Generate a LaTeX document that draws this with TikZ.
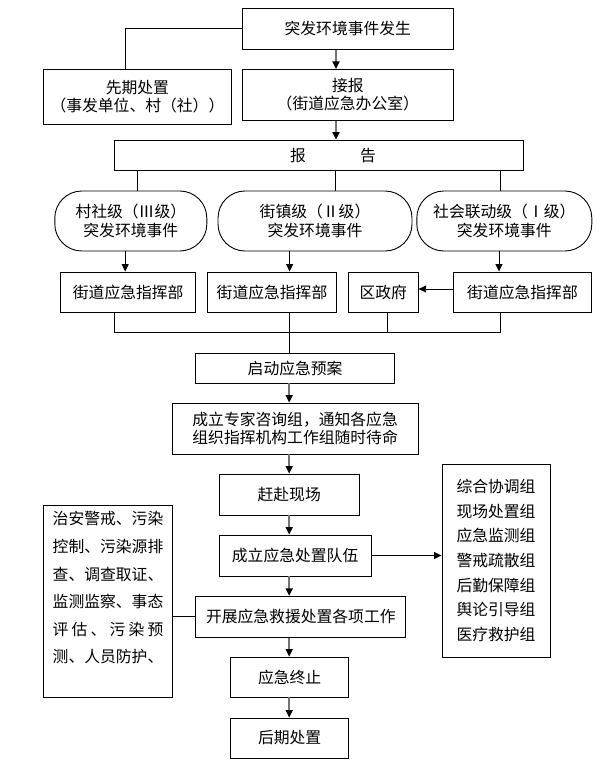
\documentclass[tikz,border=0pt]{standalone}
\usepackage{fontspec}
\setmainfont{Noto Sans CJK SC}
\usetikzlibrary{arrows.meta}
\begin{document}
\begin{tikzpicture}[x=1pt,y=-1pt,
  box/.style={draw, line width=0.9pt, inner sep=0pt, align=center, font=\fontsize{15.8}{18.5}\selectfont},
  rbox/.style={box, rounded corners=27pt},
  ln/.style={line width=0.9pt},
  tarr/.style={line width=0.9pt, -{Triangle[length=7.5pt,width=7pt]}},
  garr/.style={line width=1.7pt, draw=black!55, -{Triangle[length=7.5pt,width=7pt,color=black,fill=black]}},
]
\useasboundingbox (0,0) rectangle (614,776);
% nodes
\node[box, minimum width=211pt, minimum height=41pt] (top) at (347.8,28.8) {突发环境事件发生};
\node[box, minimum width=188pt, minimum height=55pt] (pre) at (137.4,96.8) {先期处置\\（事发单位、村（社））};
\node[box, minimum width=211pt, minimum height=50.7pt] (jb) at (347.8,94.7) {接报\\（街道应急办公室）};
\node[box, minimum width=409pt, minimum height=30.3pt] (bg) at (318.8,155.2) {\hspace{28.4pt}报\hspace{54.2pt}告};
\node[rbox, minimum width=152pt, minimum height=60pt] (r1) at (130.8,221) {村社级（Ⅲ级）\\突发环境事件};
\node[rbox, minimum width=194pt, minimum height=60pt] (r2) at (315,221) {街镇级（Ⅱ级）\\突发环境事件};
\node[rbox, minimum width=175pt, minimum height=60pt] (r3) at (504.3,221) {社会联动级（Ⅰ级）\\突发环境事件};
\node[box, minimum width=135pt, minimum height=40pt] (b1) at (128.2,292) {街道应急指挥部};
\node[box, minimum width=129pt, minimum height=40pt] (b2) at (272,292) {街道应急指挥部};
\node[box, minimum width=70pt, minimum height=40pt] (qzf) at (383.2,292) {区政府};
\node[box, minimum width=138.6pt, minimum height=40pt] (b4) at (522.5,292) {街道应急指挥部};
\node[box, minimum width=199pt, minimum height=30pt] (qd) at (295.1,368) {启动应急预案};
\node[box, minimum width=246pt, minimum height=51pt] (zj) at (295.1,428.5) {成立专家咨询组，通知各应急\\组织指挥机构工作组随时待命};
\node[box, minimum width=140pt, minimum height=41pt] (gf) at (289.2,494.5) {赶赴现场};
\node[box, minimum width=152pt, minimum height=41pt] (dw) at (295.1,555.5) {成立应急处置队伍};
\node[box, minimum width=210pt, minimum height=41pt] (kz) at (300.8,616.8) {开展应急救援处置各项工作};
\node[box, minimum width=117.4pt, minimum height=40pt] (zz) at (289.6,677) {应急终止};
\node[box, minimum width=117.4pt, minimum height=40pt] (hq) at (289.6,738) {后期处置};
\node[box, minimum width=129.4pt, minimum height=192pt, align=left, font=\fontsize{15.8}{27.6}\selectfont] (L) at (108,601)
  {治安警戒、污染\\控制、污染源排\\查、调查取证、\\监测监察、事态\\\makebox[7em][s]{评\hfil 估\hfil 、\hfil 污\hfil 染\hfil 预}\\测、人员防护、\\\mbox{}};
\node[box, minimum width=108pt, minimum height=193pt, font=\fontsize{15.8}{24.7}\selectfont] (R) at (496,560.5)
  {综合协调组\\现场处置组\\应急监测组\\警戒疏散组\\后勤保障组\\舆论引导组\\医疗救护组};
% helper coordinates
\coordinate (xa) at (336,0);
\coordinate (xl) at (125.7,28.8);
\coordinate (x1) at (137.3,0);
\coordinate (x2) at (335.8,0);
\coordinate (x3) at (500.2,0);
\coordinate (y1) at (125.2,0);
\coordinate (y2) at (289.6,0);
\coordinate (y3) at (499,0);
\coordinate (z1) at (114.3,332);
\coordinate (z2) at (289.6,332);
\coordinate (z3) at (387.5,332);
\coordinate (z4) at (500.2,332);
\coordinate (w) at (0,289);
\coordinate (mc) at (289.2,0);
% connectors
\draw[ln] (top.west) -| (pre.north -| xl);
\draw[garr] (top.south -| xa) -- (jb.north -| xa);
\draw[garr] (jb.south -| xa) -- (bg.north -| xa);
\draw[ln] (bg.south -| x1) -- (r1.north -| x1);
\draw[ln] (bg.south -| x2) -- (r2.north -| x2);
\draw[ln] (bg.south -| x3) -- (r3.north -| x3);
\draw[tarr] (r1.south -| y1) -- (b1.north -| y1);
\draw[tarr] (r2.south -| y2) -- (b2.north -| y2);
\draw[tarr] (r3.south -| y3) -- (b4.north -| y3);
\draw[tarr] (b4.west |- w) -- (qzf.east |- w);
\draw[ln] (b1.south -| z1) -- (z1) -- (z4) -- (b4.south -| z4);
\draw[ln] (b2.south -| z2) -- (z2) -- (qd.north -| z2);
\draw[ln] (qzf.south -| z3) -- (z3);
\draw[garr] (qd.south -| mc) -- (zj.north -| mc);
\draw[garr] (zj.south -| mc) -- (gf.north -| mc);
\draw[garr] (gf.south -| mc) -- (dw.north -| mc);
\draw[garr] (dw.south -| mc) -- (kz.north -| mc);
\draw[garr] (kz.south -| mc) -- (zz.north -| mc);
\draw[garr] (zz.south -| mc) -- (hq.north -| mc);
\draw[tarr] (dw.east) -- (dw.east -| R.west);
\draw[ln] (L.east |- kz.west) -- (kz.west);
\end{tikzpicture}
\end{document}
